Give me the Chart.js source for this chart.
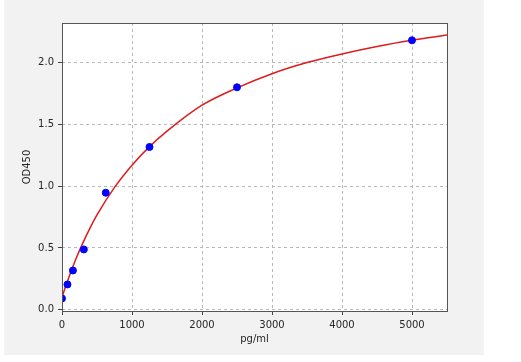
<!DOCTYPE html>
<html lang="en">
<head>
    <meta charset="UTF-8">
    <title>OD450 standard curve</title>
    <script src="https://cdn.jsdelivr.net/npm/chart.js"></script>
    <style>
        html, body { margin: 0; padding: 0; background: #ffffff; }
        #wrap { width: 521px; height: 362px; }
    </style>
</head>
<body>
    <div id="wrap"><canvas id="curveChart" width="521" height="362"></canvas></div>
    <script>
        // standards (pg/ml) and measured OD450
        const conc = [0, 78, 156, 312, 625, 1250, 2500, 5000];
        const od = [0.092, 0.205, 0.318, 0.488, 0.947, 1.317, 1.80, 2.18];

        // fitted curve
        const fitX = [0, 50, 100, 200, 300, 400, 500, 750, 1000, 1250, 1500, 2000, 2500, 3000, 3500, 4000, 4500, 5000, 5500];
        const fitY = [0.10, 0.186, 0.266, 0.413, 0.543, 0.661, 0.767, 0.99, 1.17, 1.32, 1.445, 1.655, 1.795, 1.91, 2.0, 2.07, 2.13, 2.18, 2.222];

        const xTicks = [0, 1000, 2000, 3000, 4000, 5000];
        const yTicks = [0.0, 0.5, 1.0, 1.5, 2.0];

        const font = { family: 'DejaVu Sans', size: 10 };

        const backdrop = {
            id: 'backdrop',
            beforeDraw(chart) {
                const ctx = chart.ctx;
                const a = chart.chartArea;
                ctx.save();
                ctx.fillStyle = '#f2f2f2';
                ctx.fillRect(4, 0, 480, 355);
                ctx.fillStyle = '#ffffff';
                ctx.fillRect(a.left, a.top, a.right - a.left, a.bottom - a.top);
                ctx.restore();
            },
            afterDraw(chart) {
                const ctx = chart.ctx;
                const a = chart.chartArea;
                ctx.save();
                ctx.strokeStyle = '#555555';
                ctx.lineWidth = 1;
                ctx.setLineDash([]);
                ctx.strokeRect(Math.round(a.left) + 0.5, Math.round(a.top) + 0.5,
                    Math.round(a.right - a.left), Math.round(a.bottom - a.top));
                ctx.restore();
            }
        };

        const points = conc.map((x, i) => ({ x: x, y: od[i] }));
        const fit = fitX.map((x, i) => ({ x: x, y: fitY[i] }));

        new Chart(document.getElementById('curveChart').getContext('2d'), {
            type: 'scatter',
            data: {
                datasets: [
                    {
                        label: 'standards',
                        data: points,
                        backgroundColor: '#0000ff',
                        borderColor: '#0000ff',
                        pointRadius: 3.5,
                        showLine: false
                    },
                    {
                        label: 'fit',
                        data: fit,
                        showLine: true,
                        borderColor: '#dd1c1c',
                        borderWidth: 1.5,
                        pointRadius: 0,
                        cubicInterpolationMode: 'monotone'
                    }
                ]
            },
            options: {
                responsive: false,
                animation: false,
                layout: { padding: { left: 0, top: 23, right: 74, bottom: 0 } },
                plugins: {
                    legend: { display: false },
                    tooltip: { enabled: false }
                },
                scales: {
                    x: {
                        type: 'linear',
                        min: 0,
                        max: 5500,
                        afterFit(scale) { scale.height = 51; },
                        afterBuildTicks(scale) { scale.ticks = xTicks.map(v => ({ value: v })); },
                        ticks: {
                            font: font,
                            color: '#262626',
                            padding: 4,
                            maxRotation: 0,
                            callback: v => String(v)
                        },
                        grid: {
                            color: '#b8b8b8',
                            tickColor: '#444444',
                            tickLength: 4
                        },
                        border: { display: false, dash: [3, 3] },
                        title: {
                            display: true,
                            text: 'pg/ml',
                            font: font,
                            color: '#262626',
                            padding: { top: 4, bottom: 17 }
                        }
                    },
                    y: {
                        type: 'linear',
                        min: -0.01,
                        max: 2.32,
                        afterFit(scale) { scale.width = 62; },
                        afterBuildTicks(scale) { scale.ticks = yTicks.map(v => ({ value: v })); },
                        ticks: {
                            font: font,
                            color: '#262626',
                            padding: 4,
                            callback: v => Number(v).toFixed(1)
                        },
                        grid: {
                            color: '#b8b8b8',
                            tickColor: '#444444',
                            tickLength: 4
                        },
                        border: { display: false, dash: [3, 3] },
                        title: {
                            display: true,
                            text: 'OD450',
                            font: font,
                            color: '#262626',
                            padding: { top: 21, bottom: 4 }
                        }
                    }
                }
            },
            plugins: [backdrop]
        });
    </script>
</body>
</html>
